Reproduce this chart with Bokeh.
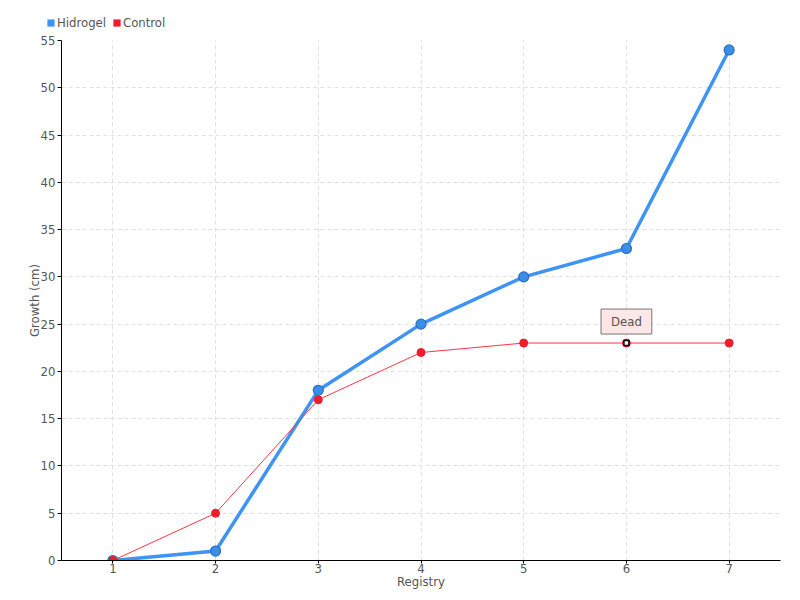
from bokeh.plotting import figure
from bokeh.layouts import column
from bokeh.models import Legend, LegendItem, Range1d, Label, FixedTicker, ColumnDataSource
from bokeh.embed import file_html
from bokeh.resources import INLINE

registry = [1, 2, 3, 4, 5, 6, 7]
hidrogel = [0, 1, 18, 25, 30, 33, 54]
control = [0, 5, 17, 22, 23, 23, 23]
y_ticks = [0, 5, 10, 15, 20, 25, 30, 35, 40, 45, 50, 55]
dead_x = [6]
dead_y = [23]
dead_label = "Dead"

FONT = "DejaVu Sans Condensed"
TXT = "#555555"
BLUE = "#3d94f6"
RED = "#ee1c2c"

src = ColumnDataSource(dict(x=registry, h=hidrogel, c=control))

# --- legend strip above the chart (its glyph renderers fall outside the strip's ranges) ---
top = figure(width=790, height=32, output_backend="svg", toolbar_location=None,
             x_range=Range1d(100, 101), y_range=Range1d(100, 101), min_border=0,
             x_axis_location=None, y_axis_location=None)
top.frame_align = False
top.outline_line_color = None
top.grid.visible = False
lh = top.quad(left="x", right="x", bottom="h", top="h", source=src, fill_color=BLUE, line_color=None)
lc = top.quad(left="x", right="x", bottom="c", top="c", source=src, fill_color=RED, line_color=None)
legend = Legend(items=[LegendItem(label="Hidrogel", renderers=[lh]),
                       LegendItem(label="Control", renderers=[lc])],
                orientation="horizontal", location=(46, 2),
                label_text_font=FONT, label_text_font_size="13px", label_text_color=TXT,
                glyph_width=9, glyph_height=9, spacing=6, label_standoff=2, padding=2, margin=0,
                background_fill_alpha=0, border_line_color=None, label_height=14)
top.add_layout(legend, "center")

# --- main chart ---
p = figure(frame_width=719, frame_height=520, output_backend="svg", toolbar_location=None,
           x_range=Range1d(0.5, 7.5), y_range=Range1d(0, 55),
           min_border_left=61, min_border_right=10, min_border_top=8, min_border_bottom=30)
p.frame_align = False
p.outline_line_color = None

for ax in (p.xaxis[0], p.yaxis[0]):
    ax.major_label_text_font = FONT
    ax.major_label_text_font_size = "13px"
    ax.major_label_text_color = TXT
    ax.axis_label_text_font = FONT
    ax.axis_label_text_font_size = "13px"
    ax.axis_label_text_font_style = "normal"
    ax.axis_label_text_color = TXT
    ax.axis_line_color = "black"
    ax.major_tick_line_color = "black"
    ax.minor_tick_line_color = None
    ax.major_tick_in = 0

p.xaxis.major_tick_out = 3
p.yaxis.major_tick_out = 4
p.xaxis.ticker = FixedTicker(ticks=registry)
p.yaxis.ticker = FixedTicker(ticks=y_ticks)
p.xaxis.axis_label = "Registry"
p.yaxis.axis_label = "Growth (cm)"
p.xaxis.major_label_standoff = 0
p.xaxis.axis_label_standoff = -2
p.yaxis.major_label_standoff = 2
p.yaxis.axis_label_standoff = -4

for g in (p.xgrid[0], p.ygrid[0]):
    g.grid_line_color = "#e0e0e0"
    g.grid_line_dash = "4 3"
    g.grid_line_width = 1

p.line("x", "h", source=src, line_color=BLUE, line_width=3.5)
p.scatter("x", "h", source=src, size=10, fill_color="#3a8ee6", line_color="#2d6fc4", line_width=1.2)
p.line("x", "c", source=src, line_color="#ff3646", line_width=1)
p.scatter("x", "c", source=src, size=8, fill_color=RED, line_color=RED)

p.scatter(dead_x, dead_y, marker="square", size=5, fill_color="white", line_color="black", line_width=1.5)

lab = Label(x=dead_x[0], y=dead_y[0], text=dead_label, x_offset=0, y_offset=9,
            text_align="center", text_baseline="bottom", text_font=FONT, text_font_size="13px",
            text_color=TXT, background_fill_color="#fde6e6", border_line_color="#777777",
            border_line_width=1, padding=(10, 5))
p.add_layout(lab)

layout = column(top, p, spacing=0)
open("out.html", "w").write(file_html(layout, INLINE))
